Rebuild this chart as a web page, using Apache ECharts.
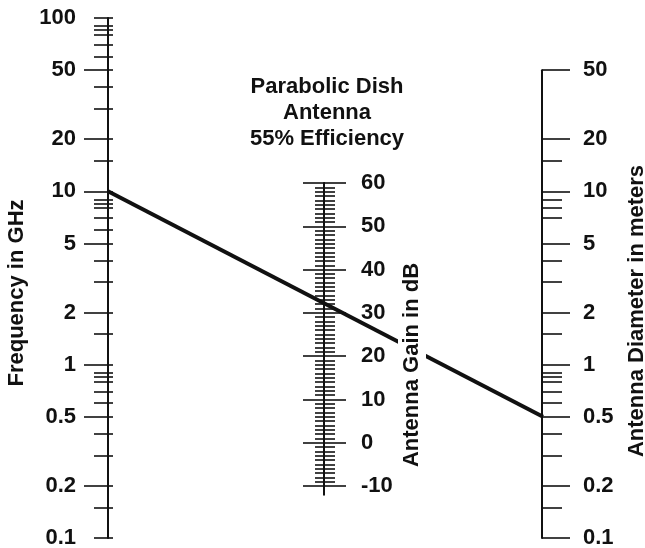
<!DOCTYPE html>
<html>
<head>
<meta charset="utf-8">
<script src="https://cdn.jsdelivr.net/npm/echarts@6/dist/echarts.min.js"></script>
<style>
  html, body { margin: 0; padding: 0; background: #fff; }
  #chart { width: 645px; height: 548px; }
</style>
</head>
<body>
<div id="chart"></div>
<script>
// Frequency scale, GHz
const freqLabels = [0.1, 0.2, 0.5, 1, 2, 5, 10, 20, 50, 100];
const freqMajorTicks = [0.2, 0.5, 1, 2, 5, 10, 20, 50];
const freqMinorTicks = [0.1, 0.15, 0.3, 0.4, 0.6, 0.7, 0.8, 0.85, 0.9,
  1.5, 3, 4, 6, 7, 8, 8.5, 9, 15, 30, 40, 60, 70, 80, 85, 90, 100];

// Gain scale, dB
const gainLabels = [-10, 0, 10, 20, 30, 40, 50, 60];
const gainRange = [-12, 60];

// Diameter scale, metres
const diamLabels = [0.1, 0.2, 0.5, 1, 2, 5, 10, 20, 50];
const diamMinorTicks = [0.15, 0.3, 0.4, 0.6, 0.7, 0.8, 0.85, 0.9,
  1.5, 3, 4, 7, 8, 9, 15];

// Worked example: a 0.5 m dish at 10 GHz
const exampleFreq = 10;
const exampleDiam = 0.5;

const FONT = "'Liberation Sans', Arial, Helvetica, sans-serif";
const INK = '#111';

// one tick per dB between the labelled decades
const gainMinorTicks = [];
for (let g = gainLabels[0]; g <= gainLabels[gainLabels.length - 1]; g++) {
  if (gainLabels.indexOf(g) < 0) gainMinorTicks.push(g);
}

const fmt = v => String(+Number(v).toPrecision(6));
const label = (values, margin) => ({
  show: true, customValues: values, margin: margin, formatter: fmt,
  color: INK, fontFamily: FONT, fontSize: 22, fontWeight: 'bold'
});
const noLabel = { show: false };
const line = { show: true, lineStyle: { color: INK, width: 2 } };
const noLine = { show: false };
const ticks = (values, length, inside) => ({
  show: true, customValues: values, length: length, inside: !!inside,
  lineStyle: { color: INK, width: 1.6 }
});
const scaleAxis = (grid, type, min, max, position, axisLine, axisTick, axisLabel) => ({
  gridIndex: grid, type: type, min: min, max: max, position: position,
  axisLine: axisLine, axisTick: axisTick, axisLabel: axisLabel,
  splitLine: { show: false }, minorTick: { show: false }, z: 3
});

const chart = echarts.init(document.getElementById('chart'), null, { renderer: 'canvas' });

const gridBase = { containLabel: false, outerBoundsMode: 'none', show: false };

chart.setOption({
  backgroundColor: '#fff',
  animation: false,
  grid: [
    Object.assign({ left: 108, width: 1, top: 18, height: 520 }, gridBase),       // frequency
    Object.assign({ left: 324, width: 1, top: 183, height: 311.7 }, gridBase),    // gain
    Object.assign({ left: 542, width: 1, top: 70.2, height: 467.8 }, gridBase),   // diameter
    Object.assign({ left: 108, width: 435, top: 18, height: 520 }, gridBase)      // example line
  ],
  xAxis: [
    { gridIndex: 0, type: 'value', show: false },
    { gridIndex: 1, type: 'value', show: false },
    { gridIndex: 2, type: 'value', show: false },
    { gridIndex: 3, type: 'value', show: false, min: 0, max: 1 }
  ],
  yAxis: [
    // frequency
    scaleAxis(0, 'log', 0.1, 100, 'left', line, ticks(freqMajorTicks, 24), label(freqLabels, 32)),
    scaleAxis(0, 'log', 0.1, 100, 'left', noLine, ticks(freqMinorTicks, 14), noLabel),
    scaleAxis(0, 'log', 0.1, 100, 'left', noLine, ticks(freqMajorTicks.concat(freqMinorTicks), 5, true), noLabel),
    // gain
    scaleAxis(1, 'value', gainRange[0], gainRange[1], 'right', line, ticks(gainLabels, 22), label(gainLabels, 36)),
    scaleAxis(1, 'value', gainRange[0], gainRange[1], 'right', noLine, ticks(gainLabels, 22, true), noLabel),
    scaleAxis(1, 'value', gainRange[0], gainRange[1], 'right', noLine, ticks(gainMinorTicks, 10), noLabel),
    scaleAxis(1, 'value', gainRange[0], gainRange[1], 'right', noLine, ticks(gainMinorTicks, 10, true), noLabel),
    // diameter
    scaleAxis(2, 'log', 0.1, 50, 'right', line, ticks(diamLabels, 28), label(diamLabels, 40)),
    scaleAxis(2, 'log', 0.1, 50, 'right', noLine, ticks(diamMinorTicks, 19), noLabel),
    // frequency scale reused for the example line (both outer scales share it)
    { gridIndex: 3, type: 'log', min: 0.1, max: 100, show: false }
  ],
  series: [{
    type: 'line',
    xAxisIndex: 3,
    yAxisIndex: 9,
    data: [[0, exampleFreq], [1, exampleDiam]],
    symbol: 'none',
    silent: true,
    lineStyle: { color: INK, width: 4 },
    z: 2
  }],
  graphic: [
    {
      type: 'text', x: 17, y: 293, rotation: Math.PI / 2, z: 100,
      style: { text: 'Frequency in GHz', font: 'bold 22px ' + FONT, fill: INK,
               textAlign: 'center', textVerticalAlign: 'middle' }
    },
    {
      type: 'text', x: 412, y: 365, rotation: Math.PI / 2, z: 100,
      style: { text: 'Antenna Gain in dB', font: 'bold 22px ' + FONT, fill: INK,
               textAlign: 'center', textVerticalAlign: 'middle',
               backgroundColor: '#fff', padding: [3, 4] }
    },
    {
      type: 'text', x: 637, y: 311, rotation: Math.PI / 2, z: 100,
      style: { text: 'Antenna Diameter in meters', font: 'bold 22px ' + FONT, fill: INK,
               textAlign: 'center', textVerticalAlign: 'middle' }
    },
    {
      type: 'text', x: 327, y: 113, z: 100,
      style: { text: 'Parabolic Dish\nAntenna\n55% Efficiency', font: 'bold 22px ' + FONT,
               lineHeight: 26, fill: INK, textAlign: 'center', textVerticalAlign: 'middle' }
    }
  ]
});
</script>
</body>
</html>
